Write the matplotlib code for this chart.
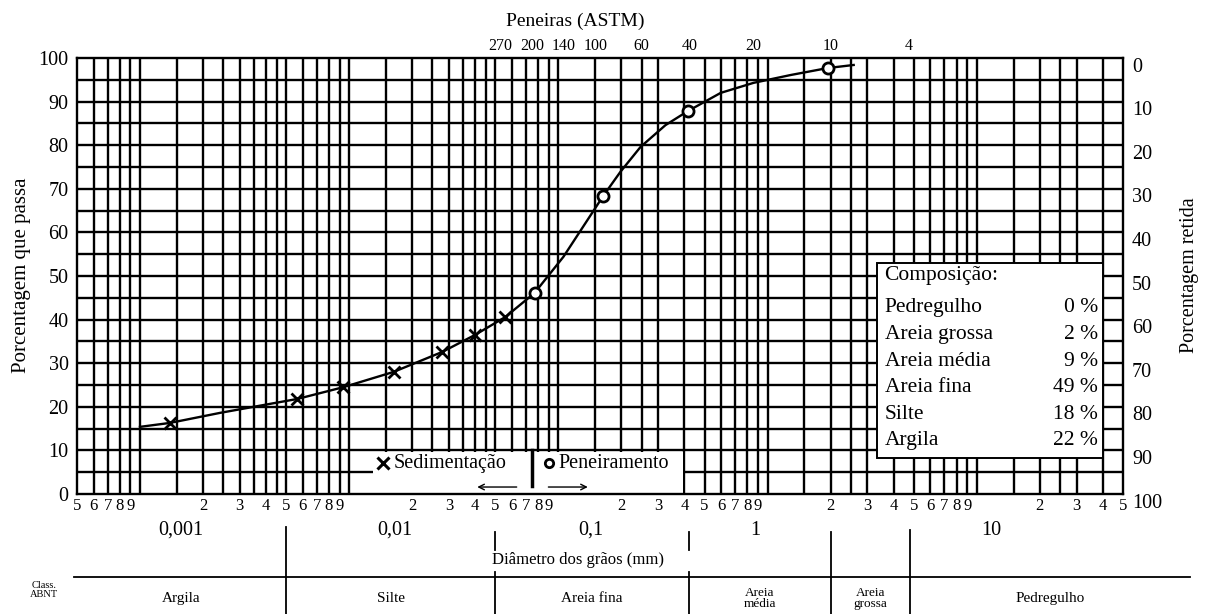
import matplotlib
matplotlib.use("Agg")
import matplotlib.pyplot as plt
from matplotlib.patches import Rectangle
from matplotlib.transforms import blended_transform_factory, ScaledTranslation
from matplotlib.ticker import FixedLocator, FixedFormatter, NullLocator

plt.rcParams['font.family'] = ['Liberation Serif', 'DejaVu Serif']

# Hydrometer (sedimentation) readings: diameter (mm) and % passing
sed_diam = [0.00139, 0.00565, 0.00938, 0.0163, 0.0279, 0.0400, 0.0558]
sed_pass = [16.3, 21.8, 24.5, 28.0, 32.6, 36.5, 40.6]

# Sieve readings
sieve_diam = [0.0769, 0.1635, 0.415, 1.94]
sieve_pass = [46.1, 68.3, 87.8, 97.7]

# Hand-fitted grading curve
curve_diam = [0.001, 0.00139, 0.00241, 0.00565, 0.00938, 0.0163, 0.0279, 0.0400,
              0.0558, 0.0769, 0.1057, 0.1635, 0.198, 0.247, 0.325, 0.415, 0.597,
              0.857, 1.29, 1.94, 2.58]
curve_pass = [15.4, 16.3, 18.6, 21.8, 24.5, 28.0, 32.6, 36.5, 40.6, 46.1, 54.4,
              68.3, 73.9, 79.6, 84.6, 87.8, 92.0, 94.3, 96.1, 97.7, 98.4]

# ASTM sieve numbers and openings (mm)
sieve_numbers = ['270', '200', '140', '100', '60', '40', '20', '10', '4']
sieve_openings = [0.053, 0.075, 0.106, 0.15, 0.25, 0.425, 0.85, 2.0, 4.75]

# Composition summary
comp_names = ['Pedregulho', 'Areia grossa', 'Areia média', 'Areia fina', 'Silte', 'Argila']
comp_values = [0, 2, 9, 49, 18, 22]

# ABNT classification limits (mm) and names
class_limits = [0.0005, 0.005, 0.05, 0.42, 2.0, 4.8]
class_names = ['Argila', 'Silte', 'Areia fina', 'Areia\nmédia', 'Areia\ngrossa', 'Pedregulho']

decade_labels = ['0,001', '0,01', '0,1', '1', '10']
decade_label_pos = [0.00156, 0.0166, 0.1426, 0.877, 11.7]

retida_ticks = list(range(0, 101, 10))

XMIN, XMAX = 5e-4, 50
W, H = 1205, 614
LW = 1.7

fig = plt.figure(figsize=(W / 100, H / 100), dpi=100)
ax = fig.add_axes([77 / W, 1 - 494 / H, (1123 - 77) / W, (494 - 58) / H])
ax.set_xscale('log')
ax.set_xlim(XMIN, XMAX)
ax.set_ylim(0, 100)

# grid of the semi-log chart paper
fine = [1, 1.5, 2, 2.5, 3, 3.5, 4, 4.5, 5, 6, 7, 8, 9]
coarse = [1, 1.5, 2, 2.5, 3, 4, 5, 6, 7, 8, 9]
for e in range(-4, 2):
    for k in (fine if 10.0 ** e < 0.1 else coarse):
        v = k * 10.0 ** e
        if XMIN < v < XMAX:
            ax.axvline(v, color='black', lw=LW, zorder=1)
for p in range(5, 100, 5):
    ax.axhline(p, color='black', lw=LW, zorder=1)

for s in ax.spines.values():
    s.set_linewidth(LW)
    s.set_zorder(5)

# bottom digit labels
minor_pos, minor_lab = [], []
for e in range(-4, 2):
    for k in range(2, 10):
        v = k * 10.0 ** e
        if XMIN * 0.999 <= v <= XMAX * 1.001:
            minor_pos.append(v)
            minor_lab.append(str(k))
ax.xaxis.set_major_locator(FixedLocator(minor_pos))
ax.xaxis.set_major_formatter(FixedFormatter(minor_lab))
ax.xaxis.set_minor_locator(NullLocator())
ax.tick_params(axis='x', length=0, pad=3, labelsize=12)

ax.set_yticks(range(0, 101, 10))
ax.tick_params(axis='y', length=0, pad=6, labelsize=14.5)

# top sieve axis
axt = ax.twiny()
axt.set_xscale('log')
axt.set_xlim(XMIN, XMAX)
axt.xaxis.set_major_locator(FixedLocator(sieve_openings))
axt.xaxis.set_major_formatter(FixedFormatter(sieve_numbers))
axt.xaxis.set_minor_locator(NullLocator())
axt.tick_params(axis='x', length=0, pad=3, labelsize=11.5)
for s in axt.spines.values():
    s.set_visible(False)
ax.text(0.476, 1.083, 'Peneiras (ASTM)', transform=ax.transAxes,
        ha='center', va='center', fontsize=14)

# right scale: percent retained
shift = ScaledTranslation(0, -9 / 100, fig.dpi_scale_trans)
for v in retida_ticks:
    ax.text(1.0085, 1 - v / 100, str(v), transform=ax.transAxes + shift,
            ha='left', va='center', fontsize=14.5)

ax.text(-0.0526, 0.502, 'Porcentagem que passa', transform=ax.transAxes,
        rotation=90, ha='center', va='center', fontsize=15)
ax.text(1.064, 0.502, 'Porcentagem retida', transform=ax.transAxes,
        rotation=90, ha='center', va='center', fontsize=14.5)

# grading curve and measured points
ax.plot(curve_diam, curve_pass, color='black', lw=1.7, zorder=3)
ax.plot(sed_diam, sed_pass, ls='none', marker='x', ms=9, mew=2, color='black', zorder=4)
ax.plot(sieve_diam, sieve_pass, ls='none', marker='o', ms=8, mew=2,
        mfc='white', mec='black', zorder=4)

# legend area
ax.add_patch(Rectangle((0.283, 0.0), 0.579 - 0.283, 0.096,
                       transform=ax.transAxes, facecolor='white', edgecolor='none', zorder=2))
ax.plot([0.293], [0.071], transform=ax.transAxes, marker='x', ms=8, mew=2.2,
        color='black', zorder=4)
ax.text(0.303, 0.071, 'Sedimentação', transform=ax.transAxes, ha='left',
        va='center', fontsize=14.5, zorder=4)
ax.plot([0.435, 0.435], [0.018, 0.10], transform=ax.transAxes, color='black', lw=2.5, zorder=4)
ax.plot([0.451], [0.071], transform=ax.transAxes, marker='o', ms=6, mew=2,
        mfc='white', mec='black', zorder=4)
ax.text(0.460, 0.071, 'Peneiramento', transform=ax.transAxes, ha='left',
        va='center', fontsize=14.5, zorder=4)
ax.annotate('', xy=(0.380, 0.016), xytext=(0.423, 0.016), xycoords='axes fraction',
            arrowprops=dict(arrowstyle='->', lw=1.0, color='black'), zorder=4)
ax.annotate('', xy=(0.491, 0.016), xytext=(0.448, 0.016), xycoords='axes fraction',
            arrowprops=dict(arrowstyle='->', lw=1.0, color='black'), zorder=4)

# composition box
ax.add_patch(Rectangle((0.765, 0.083), 0.981 - 0.765, 0.530 - 0.083,
                       transform=ax.transAxes, facecolor='white', edgecolor='black',
                       lw=1.4, zorder=3))
ax.text(0.772, 0.502, 'Composição:', transform=ax.transAxes, ha='left',
        va='center', fontsize=15.5, zorder=4)
row_y = [0.427, 0.366, 0.305, 0.244, 0.183, 0.122]
for name, val, yy in zip(comp_names, comp_values, row_y):
    ax.text(0.772, yy, name, transform=ax.transAxes, ha='left', va='center',
            fontsize=15.5, zorder=4)
    ax.text(0.976, yy, f'{val} %', transform=ax.transAxes, ha='right', va='center',
            fontsize=15.5, zorder=4)

# decade labels and axis title below
bt = blended_transform_factory(ax.transData, ax.transAxes)
for lab, xv in zip(decade_labels, decade_label_pos):
    ax.text(xv, -0.083, lab, transform=bt, ha='center', va='center', fontsize=14.5)
ax.text(0.479, -0.151, 'Diâmetro dos grãos (mm)', transform=ax.transAxes,
        ha='center', va='center', fontsize=12)

# ABNT classification strip
ax.plot([-0.003, 1.064], [-0.190, -0.190], transform=ax.transAxes, color='black',
        lw=1.3, clip_on=False)
seg = {0.005: [(-0.076, -0.28)], 0.05: [(-0.087, -0.128), (-0.180, -0.28)],
       0.42: [(-0.087, -0.128), (-0.180, -0.28)], 2.0: [(-0.087, -0.28)],
       4.8: [(-0.082, -0.28)]}
for lim in class_limits[1:]:
    for y0, y1 in seg[lim]:
        ax.plot([lim, lim], [y0, y1], transform=bt, color='black', lw=1.3, clip_on=False)
for i, name in enumerate(class_names):
    if i < len(class_names) - 1:
        xc = (class_limits[i] * class_limits[i + 1]) ** 0.5
        ax.text(xc, -0.239, name, transform=bt, ha='center', va='center',
                fontsize=11 if '\n' not in name else 9.5, linespacing=0.9)
    else:
        ax.text(0.93, -0.239, name, transform=ax.transAxes, ha='center',
                va='center', fontsize=11)
ax.text(-0.0316, -0.22, 'Class.\nABNT', transform=ax.transAxes, ha='center',
        va='center', fontsize=7.5, linespacing=1.1)

fig.savefig('out.png', dpi=100, facecolor='white')
